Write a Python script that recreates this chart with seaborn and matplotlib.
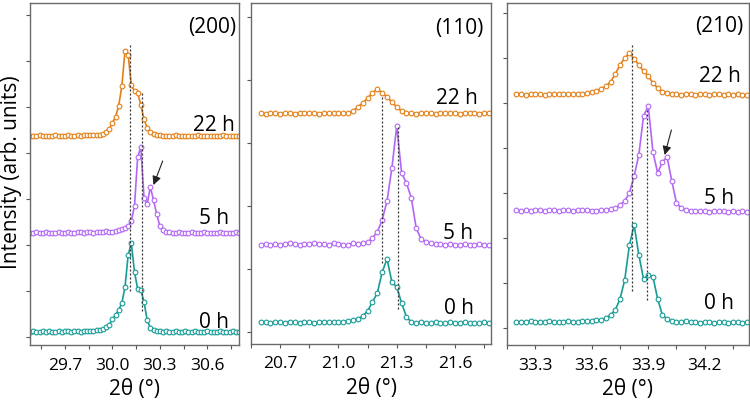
import numpy as np
import pandas as pd
import matplotlib
matplotlib.use("Agg")
import matplotlib.pyplot as plt
import seaborn as sns

# ---------------- data ----------------
times = ["0 h", "5 h", "22 h"]
colors = {"0 h": "#179c96", "5 h": "#b266f5", "22 h": "#e47f16"}

# panel (200)
start_200, step_200, n_200 = 29.48, 0.02, 67
i200_0h = [1,2,1,1,2,1,2,1,1,2, 1,2,2,1,2,2,1,2,2,2, 2,3,3,4,6,8,14,18,23,30,
           46,78,90,61,44,43,31,13,5,3, 2,2,1,2,1,1,2,1,1,2, 1,1,2,1,1,1,2,1,1,1,
           2,1,1,1,2,1,1]
i200_5h = [1,1,2,1,1,2,1,1,1,2, 1,1,2,1,1,2,2,1,2,2, 1,2,2,2,3,2,2,3,4,5,
           6,8,13,28,77,87,36,30,47,34, 20,8,4,2,2,1,1,2,1,1, 1,2,1,1,1,2,1,1,1,1,
           2,1,1,1,1,2,1]
i200_22h = [1,1,1,2,1,1,1,1,2,1, 1,1,2,1,1,2,1,2,2,2, 2,2,2,3,5,8,14,20,31,51,
            86,82,52,46,44,32,18,9,5,3, 2,2,1,1,1,1,2,1,1,1, 1,1,1,2,1,1,1,1,1,1,
            1,2,1,1,1,1,1]
off_200 = [12, 111, 208]
peaks_200 = [30.11, 30.19]

# panel (110)
start_110, step_110, n_110 = 20.60, 0.025, 48
i110_0h = [2,2,1,2,2,1,2,2,1,2, 2,1,2,2,2,2,2,2,3,4, 5,8,13,22,31,52,65,42,37,21,
           7,2,1,2,1,1,2,1,1,2, 1,1,2,1,1,1,2,1]
i110_5h = [1,2,1,2,1,2,3,2,1,2, 2,3,2,2,1,3,2,1,1,3, 2,3,4,8,14,26,45,78,120,73,
           63,48,18,7,4,3,2,2,1,2, 1,1,2,1,1,2,1,1]
i110_22h = [1,0,1,1,0,1,1,0,1,1, 1,1,0,1,1,1,1,1,1,3, 7,11,16,21,25,21,17,12,7,3,
            1,1,0,1,1,1,0,1,1,1, 1,0,1,1,1,0,1,1]
off_110 = [20, 98, 230]
peaks_110 = [21.224, 21.305]

# panel (210)
start_210, step_210, n_210 = 33.20, 0.025, 50
i210_0h = [1,1,1,2,1,1,1,2,1,1, 1,2,1,1,2,2,2,3,3,5, 8,13,24,43,78,98,68,44,48,46,
           24,8,4,2,1,1,2,1,1,0, 1,1,0,1,1,0,1,1,0,1]
i210_5h = [2,1,2,1,2,2,1,2,2,1, 2,2,1,2,2,2,1,1,2,2, 3,4,7,11,19,36,57,96,106,60,
           39,50,55,31,9,4,2,1,1,1, 1,0,1,1,1,0,1,0,1,0]
i210_22h = [1,1,0,1,1,1,0,1,1,1, 1,1,1,1,1,2,3,4,6,9, 13,21,30,37,42,36,30,24,19,12,
            7,3,2,1,1,0,1,1,0,1, 1,0,1,1,0,1,0,1,0,0]
off_210 = [22, 133, 250]
peaks_210 = [33.812, 33.894]

x_major = {"200": [29.7, 30.0, 30.3, 30.6], "110": [20.7, 21.0, 21.3, 21.6],
           "210": [33.3, 33.6, 33.9, 34.2]}
x_labels = {"200": ["29.7", "30.0", "30.3", "30.6"], "110": ["20.7", "21.0", "21.3", "21.6"],
            "210": ["33.3", "33.6", "33.9", "34.2"]}

# ---------------- style ----------------
sns.set_theme(style="white")
plt.rcParams["font.family"] = ["Open Sans", "DejaVu Sans"]
plt.rcParams["text.color"] = "black"
plt.rcParams["xtick.color"] = "black"
plt.rcParams["axes.labelcolor"] = "black"

fig = plt.figure(figsize=(7.5, 4.09), dpi=100)
W, H = 750, 409
ax1 = fig.add_axes([30 / W, 1 - 345 / H, 209 / W, 342 / H])
ax2 = fig.add_axes([251 / W, 1 - 344 / H, 240 / W, 341 / H])
ax3 = fig.add_axes([507 / W, 1 - 345 / H, 242 / W, 342 / H])

panels = [
    (ax1, "200", start_200, step_200, n_200, [i200_0h, i200_5h, i200_22h], off_200, peaks_200,
     (29.48, 30.80), (0, 342),
     [(0.986, 0.927), (0.952, 0.371), (0.952, 0.067), (0.981, 0.643)],
     [(300, 53), (252, 32)], np.arange(8, 342, 46),
     ((30.26, 160), (30.318, 184))),
    (ax2, "110", start_110, step_110, n_110, [i110_0h, i110_5h, i110_22h], off_110, peaks_110,
     (20.60, 21.785), (0, 341),
     [(0.97, 0.925), (0.925, 0.325), (0.929, 0.105), (0.946, 0.721)],
     [(247, 81), (217, 34)], np.arange(12, 341, 63), None),
    (ax3, "210", start_210, step_210, n_210, [i210_0h, i210_5h, i210_22h], off_210, peaks_210,
     (33.20, 34.435), (0, 342),
     [(0.975, 0.93), (0.938, 0.427), (0.938, 0.12), (0.967, 0.784)],
     [(300, 53), (235, 43)], np.arange(17, 342, 45),
     ((33.987, 190), (34.023, 215))),
]

for (ax, hkl, start, step, n, series, offs, peaks, xlim, ylim, txt, spans,
     yt, arrow) in panels:
    x = np.round(start + step * np.arange(n), 4)
    rows = []
    for t, vals, o in zip(times, series, offs):
        for xv, v in zip(x, vals):
            rows.append({"two_theta": xv, "intensity": v + o, "time": t})
    df = pd.DataFrame(rows)
    for t in times:
        c = colors[t]
        sns.lineplot(data=df[df["time"] == t], x="two_theta", y="intensity",
                     color=c, lw=1.2, marker="o", ms=3.4, mfc="white", mec=c,
                     mew=0.8, estimator=None, sort=True, ax=ax, legend=False)
    for p, (y0, y1) in zip(peaks, spans):
        ax.plot([p, p], [y0, y1], color="#333333", lw=0.9, ls=(0, (1.6, 1.6)))
    ax.set_xlim(*xlim)
    ax.set_ylim(*ylim)
    ax.set_xticks(x_major[hkl])
    ax.set_xticklabels(x_labels[hkl], fontsize=12.5, color="black")
    ax.set_xticks(np.arange(x_major[hkl][0] - 0.15, xlim[1], 0.15), minor=True)
    ax.set_yticks(yt)
    ax.set_yticklabels([])
    ax.tick_params(axis="both", which="both", direction="out", length=3,
                   width=0.8, color="#555555", bottom=True, left=True, pad=6)
    ax.set_xlabel("2θ (°)", fontsize=15, labelpad=4, color="black")
    ax.set_ylabel("")
    for s in ax.spines.values():
        s.set_color("#6a6a6a")
        s.set_linewidth(1.0)
    (hx, hy), (x5, y5), (x0, y0), (x22, y22) = txt
    ax.text(hx, hy, f"({hkl})", transform=ax.transAxes, ha="right", va="center", fontsize=15)
    ax.text(x22, y22, "22 h", transform=ax.transAxes, ha="right", va="center", fontsize=15)
    ax.text(x5, y5, "5 h", transform=ax.transAxes, ha="right", va="center", fontsize=15)
    ax.text(x0, y0, "0 h", transform=ax.transAxes, ha="right", va="center", fontsize=15)
    if arrow is not None:
        ax.annotate("", xy=arrow[0], xytext=arrow[1],
                    arrowprops=dict(arrowstyle="-|>", color="#222222", lw=0.8,
                                    mutation_scale=13, shrinkA=0, shrinkB=0))

fig.text(12 / W, 1 - 172 / H, "Intensity (arb. units)", rotation=90,
         ha="center", va="center", fontsize=15, color="black")

fig.savefig("out.png", dpi=100)
